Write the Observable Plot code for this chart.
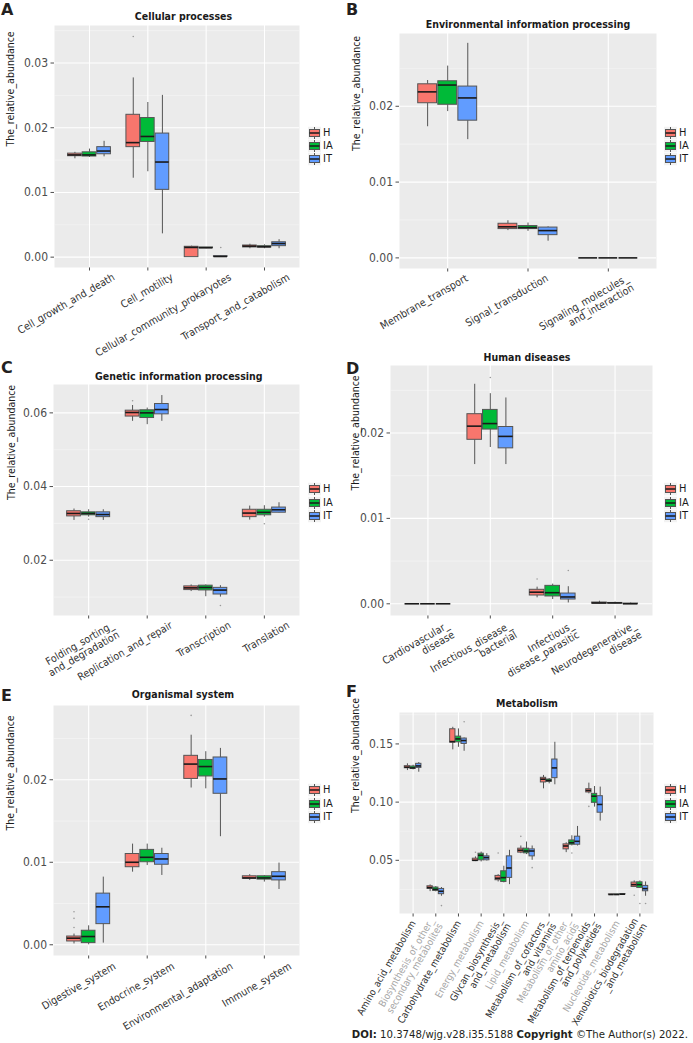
<!DOCTYPE html>
<html><head><meta charset="utf-8">
<script src="https://cdn.jsdelivr.net/npm/d3@7"></script>
<script src="https://cdn.jsdelivr.net/npm/@observablehq/plot@0.6"></script>
<style>
body{margin:0;background:#fff;}
#root{position:relative;width:693px;height:1043px;overflow:hidden;font-family:"DejaVu Sans Condensed","DejaVu Sans",sans-serif;}
.abs{position:absolute;white-space:nowrap;line-height:1.15;}
.letter{font-family:"DejaVu Sans",sans-serif;font-weight:bold;font-size:16px;color:#231f20;}
.title{font-weight:bold;font-size:10.5px;color:#1a1a1a;transform:translate(-50%,-50%);}
.legrow{display:flex;align-items:center;font-size:11px;color:#1a1a1a;transform:translateY(-50%);}
.legrow svg{display:block;margin-right:2px;}
.doi{font-family:"DejaVu Sans Condensed","DejaVu Sans",sans-serif;font-size:11.3px;color:#231f20;}
svg.plotsvg{position:absolute;overflow:visible;}
</style></head><body><div id="root"></div><script>
// ---------- data ----------
const groups = ["H", "IA", "IT"];
const groupColors = ["#F8766D", "#00BA38", "#619CFF"];
// each entry: [lower whisker, Q1, median, Q3, upper whisker]
const catsA = ["Cell_growth_and_death", "Cell_motility", "Cellular_community_prokaryotes", "Transport_and_catabolism"];
const A_H  = [[0.0152,0.0156,0.0158,0.0160,0.0162],[0.0122,0.0170,0.0177,0.0220,0.0277],[0.0000,0.0000,0.0015,0.0016,0.0017],[0.0013,0.0015,0.0017,0.0018,0.0020]];
const A_IA = [[0.0154,0.01555,0.0158,0.0162,0.0167],[0.0132,0.0178,0.01865,0.0215,0.0239],[0.0013,0.0014,0.00145,0.0015,0.0015],[0.0013,0.0015,0.0016,0.0017,0.0019]];
const A_IT = [[0.0155,0.0159,0.0164,0.0170,0.0179],[0.0036,0.0104,0.0147,0.0191,0.0250],[0.0000,0.00005,0.0001,0.00015,0.0002],[0.0013,0.0017,0.0021,0.0023,0.0027]];
const outA = [[1,0,0.0341],[2,2,0.0015]];

const catsB = ["Membrane_transport", "Signal_transduction", "Signaling_molecules_\nand_interaction"];
const B_H  = [[0.0173,0.0204,0.0219,0.0229,0.0234],[0.0036,0.0038,0.0041,0.0045,0.0049],[0,0,0,0,0]];
const B_IA = [[0.0193,0.0202,0.0228,0.0233,0.0253],[0.0035,0.0038,0.0040,0.0042,0.0046],[0,0,0,0,0]];
const B_IT = [[0.0156,0.0181,0.0211,0.0226,0.0283],[0.0022,0.0030,0.0036,0.0040,0.0041],[0,0,0,0,0]];
const outB = [];

const catsC = ["Folding_sorting_\nand_degradation", "Replication_and_repair", "Transcription", "Translation"];
const C_H  = [[0.0308,0.0319,0.0327,0.0333,0.0339],[0.0577,0.0590,0.0601,0.0606,0.0620],[0.0115,0.0119,0.0125,0.0129,0.0133],[0.0309,0.0317,0.0328,0.0337,0.0347]];
const C_IA = [[0.0317,0.0322,0.0327,0.0330,0.0337],[0.0568,0.0586,0.0600,0.0607,0.0613],[0.0101,0.0118,0.0126,0.0131,0.0133],[0.0317,0.0322,0.0330,0.0337,0.0348]];
const C_IT = [[0.0308,0.0317,0.0324,0.0330,0.0337],[0.0577,0.0596,0.0609,0.0624,0.0647],[0.0100,0.0107,0.0119,0.0125,0.0131],[0.0328,0.0329,0.0337,0.0343,0.0356]];
const outC = [[0,1,0.0311],[1,0,0.0633],[2,2,0.0077],[3,1,0.0299]];

const catsD = ["Cardiovascular_\ndisease", "Infectious_disease_\nbacterial", "Infectious_\ndisease_parasitic", "Neurodegenerative_\ndisease"];
const D_H  = [[0,0,0,0,0],[0.0163,0.0192,0.0208,0.0222,0.0257],[0.0007,0.00097,0.00136,0.00164,0.00195],[0,0.00002,0.0001,0.00015,0.0003]];
const D_IA = [[0,0,0,0,0],[0.0183,0.0204,0.0211,0.0227,0.0246],[0.0005,0.00086,0.0013,0.0021,0.0023],[0,0.00005,0.0001,0.0001,0.0002]];
const D_IT = [[0,0,0,0,0],[0.0163,0.0182,0.0196,0.0207,0.0241],[0.0001,0.0005,0.0008,0.0012,0.0020],[0,0,0,0.00003,0.0001]];
const outD = [[1,1,0.0265],[2,0,0.0029],[2,2,0.0039]];

const catsE = ["Digestive_system", "Endocrine_system", "Environmental_adaptation", "Immune_system"];
const E_H  = [[0.0001,0.0004,0.0008,0.0010,0.0013],[0.0088,0.0094,0.0100,0.0110,0.0122],[0.0190,0.0201,0.0219,0.0229,0.0254],[0.0078,0.0080,0.0081,0.0083,0.0085]];
const E_IA = [[0.0000,0.0002,0.0010,0.0017,0.0023],[0.0096,0.0100,0.0106,0.0115,0.0122],[0.0189,0.0204,0.0216,0.0224,0.0234],[0.0076,0.0079,0.0081,0.0083,0.0084]];
const E_IT = [[0.0002,0.0025,0.0046,0.0062,0.0082],[0.0084,0.0097,0.0104,0.0110,0.0117],[0.0131,0.0183,0.0201,0.0227,0.0238],[0.0067,0.0078,0.0083,0.0088,0.0099]];
const outE = [[0,0,0.0021],[0,0,0.0032],[0,0,0.0040],[2,0,0.0278]];

const catsF = ["Amino_acid_metabolism", "Biosynthesis_of_other_\nsecondary_metabolites", "Carbohydrate_metabolism", "Energy_metabolism",
  "Glycan_biosynthesis_\nand_metabolism", "Lipid_metabolism", "Metabolism_of_cofactors_\nand_vitamins", "Metabolism_of_other_\namino_acids",
  "Metabolism_of_terpenoids_\nand_polyketides", "Nucleotide_metabolism", "Xenobiotics_biodegradation\n_and_metabolism"];
const F_H  = [[0.1271,0.1291,0.1300,0.1309,0.1329],[0.0231,0.0254,0.0266,0.0277,0.0289],[0.1449,0.1511,0.1520,0.1626,0.1643],[0.0489,0.0494,0.0500,0.0514,0.0529],[0.0314,0.0329,0.0346,0.0366,0.0377],[0.0557,0.0566,0.0586,0.0600,0.0623],[0.1114,0.1169,0.1197,0.1209,0.1229],[0.0566,0.0594,0.0623,0.0637,0.0651],[0.1071,0.1083,0.1100,0.1111,0.1163],[0.0204,0.0205,0.0206,0.0207,0.0208],[0.0266,0.0271,0.0291,0.0309,0.0323]];
const F_IA = [[0.1277,0.1286,0.1294,0.1306,0.1317],[0.0229,0.0237,0.0251,0.0266,0.0274],[0.1471,0.1514,0.1543,0.1563,0.1629],[0.0486,0.0500,0.0543,0.0557,0.0571],[0.0306,0.0314,0.0351,0.0406,0.0449],[0.0549,0.0560,0.0580,0.0600,0.0657],[0.1157,0.1174,0.1186,0.1194,0.1203],[0.0623,0.0634,0.0651,0.0671,0.0711],[0.0957,0.0994,0.1051,0.1071,0.1134],[0.0204,0.0205,0.0206,0.0207,0.0208],[0.0257,0.0263,0.0291,0.0311,0.0323]];
const F_IT = [[0.1257,0.1294,0.1311,0.1329,0.1340],[0.0191,0.0209,0.0234,0.0254,0.0266],[0.1437,0.1500,0.1529,0.1546,0.1551],[0.0494,0.0500,0.0523,0.0534,0.0557],[0.0291,0.0349,0.0434,0.0534,0.0586],[0.0500,0.0534,0.0580,0.0594,0.0623],[0.1149,0.1206,0.1294,0.1366,0.1514],[0.0623,0.0634,0.0663,0.0703,0.0791],[0.0837,0.0909,0.0980,0.1051,0.1129],[0.0206,0.0207,0.0209,0.0210,0.0211],[0.0191,0.0234,0.0257,0.0280,0.0314]];
const outF = [[1,2,0.0111],[2,2,0.1691],[3,0,0.0569],[4,0,0.0563],[5,0,0.0706],[5,2,0.0437],[7,1,0.0563],[8,0,0.0963],[10,0,0.0200],[10,1,0.0129],[10,2,0.0129]];

const titles = ["Cellular processes", "Environmental information processing", "Genetic information processing", "Human diseases", "Organismal system", "Metabolism"];
const yTitle = "The_relative_abundance";

// ---------- layout ----------
const root = document.getElementById("root");
const FONT = '"DejaVu Sans Condensed","DejaVu Sans",sans-serif';

function addDiv(cls, x, y, html) {
  const d = document.createElement("div");
  d.className = "abs " + cls;
  d.style.left = x + "px"; d.style.top = y + "px";
  d.innerHTML = html;
  root.appendChild(d);
  return d;
}

function keySvg(color) {
  return `<svg width="13" height="13"><rect x="0" y="0" width="13" height="13" fill="#F2F2F2"/>` +
    `<line x1="6.5" x2="6.5" y1="0.5" y2="12.5" stroke="#555" stroke-width="1"/>` +
    `<rect x="1.5" y="3" width="10" height="7" fill="${color}" stroke="#555" stroke-width="1"/>` +
    `<line x1="1.5" x2="11.5" y1="6.5" y2="6.5" stroke="#1a1a1a" stroke-width="1.3"/></svg>`;
}

function makePanel(p) {
  const stats = [p.H, p.IA, p.IT];
  const n = p.cats.length;
  const rows = [];
  p.cats.forEach((c, i) => stats.forEach((s, gi) => {
    const [lo, q1, med, q3, hi] = s[i];
    rows.push({c, g: groups[gi], pos: i + (gi - 1) * 0.25, lo, q1, med, q3, hi});
  }));
  const outs = p.out.map(([i, gi, v]) => ({pos: i + (gi - 1) * 0.25, v}));
  const labels = p.cats.map((name, i) => ({name, i, gray: !!p.grayOdd && i % 2 === 1}));
  const hw = 0.117;
  const textOpts = (gray) => ({
    x: "i", text: "name", frameAnchor: "bottom", rotate: p.rot, textAnchor: "end",
    lineAnchor: p.la, dx: p.dx, dy: p.dy, fontSize: p.xfs, fill: gray ? "#A6A6A6" : "#303030",
    filter: d => d.gray === gray, lineHeight: 1.05
  });
  const chart = Plot.plot({
    width: p.W, height: p.Hh,
    marginLeft: p.fl - p.sx, marginRight: p.sx + p.W - p.fr,
    marginTop: p.ft - p.sy, marginBottom: p.sy + p.Hh - p.fb,
    style: {fontFamily: FONT, fontSize: "12px", color: "#4D4D4D", background: "transparent", overflow: "visible"},
    x: {domain: [-0.6, n - 0.4], ticks: d3.range(n), tickFormat: () => "", tickSize: 3.5, label: null},
    y: {domain: p.ydom, ticks: p.yticks, tickFormat: d3.format(".2f"), tickSize: 3.5, tickPadding: 3, label: null},
    color: {domain: groups, range: groupColors},
    marks: [
      Plot.frame({fill: "#EBEBEB", stroke: null}),
      Plot.ruleY(p.yminor, {stroke: "#F7F7F7", strokeWidth: 0.6}),
      Plot.ruleY(p.yticks, {stroke: "#FFFFFF", strokeWidth: 1.1}),
      Plot.ruleX(d3.range(n), {stroke: "#FFFFFF", strokeWidth: 1.1}),
      Plot.ruleX(rows, {x: "pos", y1: "lo", y2: "q1", stroke: "#555", strokeWidth: 1}),
      Plot.ruleX(rows, {x: "pos", y1: "q3", y2: "hi", stroke: "#555", strokeWidth: 1}),
      Plot.rect(rows, {x1: d => d.pos - hw, x2: d => d.pos + hw, y1: "q1", y2: "q3", fill: "g", stroke: "#555", strokeWidth: 1}),
      Plot.ruleY(rows, {y: "med", x1: d => d.pos - hw, x2: d => d.pos + hw, stroke: "#1a1a1a", strokeWidth: 1.6}),
      Plot.dot(outs, {x: "pos", y: "v", r: 0.8, fill: "#9a9a9a", stroke: null}),
      Plot.text(labels, textOpts(false)),
      Plot.text(labels, textOpts(true)),
      Plot.text([yTitle], {frameAnchor: "left", rotate: -90, dx: p.ylx - p.fl, fontSize: 10.5, fill: "#1a1a1a"})
    ]
  });
  chart.classList.add("plotsvg");
  chart.style.left = p.sx + "px";
  chart.style.top = p.sy + "px";
  root.appendChild(chart);
  addDiv("letter", p.letterPos[0], p.letterPos[1], p.letter);
  addDiv("title", p.titlePos[0], p.titlePos[1], p.title);
  groups.forEach((g, k) => addDiv("legrow", p.legX, p.legY[k], keySvg(groupColors[k]) + `<span>${g}</span>`));
}

const panels = [
  {letter: "A", title: titles[0], cats: catsA, H: A_H, IA: A_IA, IT: A_IT, out: outA,
   sx: 0, sy: 0, W: 346, Hh: 340, fl: 54, fr: 299, ft: 25, fb: 267, ydom: [-0.0016, 0.0358],
   yticks: [0, 0.01, 0.02, 0.03], yminor: [0.005, 0.015, 0.025, 0.035], rot: -30, la: "top", dx: 22, dy: 5, xfs: 10.5,
   ylx: 10, titlePos: [183.5, 16], letterPos: [1, 1], legX: 308, legY: [132.7, 146, 159.3]},
  {letter: "B", title: titles[1], cats: catsB, H: B_H, IA: B_IA, IT: B_IT, out: outB,
   sx: 346, sy: 0, W: 347, Hh: 340, fl: 399, fr: 656, ft: 33, fb: 268, ydom: [-0.0014, 0.0296],
   yticks: [0, 0.01, 0.02], yminor: [0.005, 0.015, 0.025], rot: -30, la: "top", dx: 17, dy: 5, xfs: 10.5,
   ylx: 356, titlePos: [528, 24], letterPos: [346, 1], legX: 664, legY: [132.7, 146, 159.3]},
  {letter: "C", title: titles[2], cats: catsC, H: C_H, IA: C_IA, IT: C_IT, out: outC,
   sx: 0, sy: 340, W: 346, Hh: 340, fl: 53, fr: 299, ft: 384, fb: 615, ydom: [0.005, 0.0677],
   yticks: [0.02, 0.04, 0.06], yminor: [0.01, 0.03, 0.05], rot: -30, la: "top", dx: 22, dy: 5, xfs: 10.5,
   ylx: 10.7, titlePos: [178.8, 376], letterPos: [1, 359], legX: 308, legY: [489, 502.5, 515.5]},
  {letter: "D", title: titles[3], cats: catsD, H: D_H, IA: D_IA, IT: D_IT, out: outD,
   sx: 346, sy: 340, W: 347, Hh: 340, fl: 390, fr: 652, ft: 365, fb: 615, ydom: [-0.00137, 0.0279],
   yticks: [0, 0.01, 0.02], yminor: [0.005, 0.015, 0.025], rot: -30, la: "top", dx: 18, dy: 5, xfs: 10.5,
   ylx: 355, titlePos: [527, 356.7], letterPos: [346, 360], legX: 664, legY: [489.3, 502.5, 515.5]},
  {letter: "E", title: titles[4], cats: catsE, H: E_H, IA: E_IA, IT: E_IT, out: outE,
   sx: 0, sy: 680, W: 346, Hh: 363, fl: 53, fr: 299, ft: 705, fb: 955, ydom: [-0.0013, 0.029],
   yticks: [0, 0.01, 0.02], yminor: [0.005, 0.015, 0.025], rot: -30, la: "top", dx: 24, dy: 6, xfs: 10.5,
   ylx: 10, titlePos: [183, 694], letterPos: [1, 687], legX: 308, legY: [790, 803.5, 816.7]},
  {letter: "F", title: titles[5], cats: catsF, H: F_H, IA: F_IA, IT: F_IT, out: outF, grayOdd: true,
   sx: 346, sy: 680, W: 347, Hh: 363, fl: 399, fr: 653, ft: 712, fb: 913, ydom: [0.0043, 0.177],
   yticks: [0.05, 0.10, 0.15], yminor: [0.025, 0.075, 0.125, 0.175], rot: -60, la: "middle", dx: 0, dy: 8, xfs: 9.8,
   ylx: 355, titlePos: [527, 702.7], letterPos: [346, 683], legX: 664, legY: [790, 803.5, 816.7]}
];
panels.forEach(makePanel);

const doi = addDiv("doi", 0, 1028, "<b>DOI:</b> 10.3748/wjg.v28.i35.5188 <b>Copyright</b> ©The Author(s) 2022.");
doi.style.left = "auto"; doi.style.right = "5px";
</script></body></html>
